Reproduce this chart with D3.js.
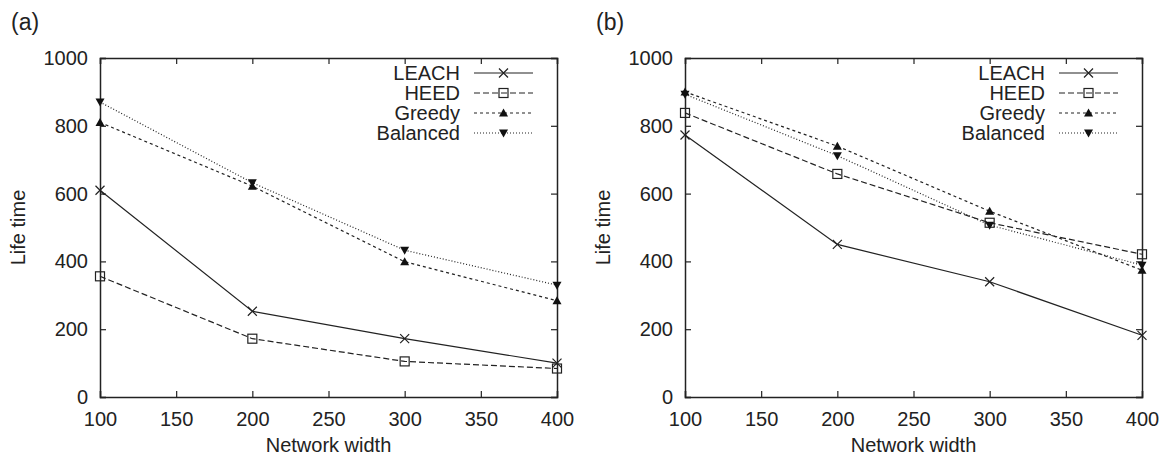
<!DOCTYPE html>
<html>
<head>
<meta charset="UTF-8">
<title>Life time vs network width</title>
<script src="https://d3js.org/d3.v7.min.js"></script>
<style>
  body { margin: 0; background: #fff; }
  svg { display: block; font-family: "Liberation Sans", Arial, sans-serif; }
</style>
</head>
<body>
<svg id="chart" width="1169" height="457"></svg>
<script>
// data
const widths = [100, 200, 300, 400];
const seriesNames = ["LEACH", "HEED", "Greedy", "Balanced"];

// panel (a)
const leachA = [610, 253, 172, 100];
const heedA = [356, 172, 105, 84];
const greedyA = [810, 622, 399, 284];
const balancedA = [870, 632, 433, 330];

// panel (b)
const leachB = [773, 450, 340, 182];
const heedB = [838, 658, 514, 421];
const greedyB = [900, 740, 548, 374];
const balancedB = [893, 712, 507, 389];

const xTicks = [100, 150, 200, 250, 300, 350, 400];
const yTicks = [0, 200, 400, 600, 800, 1000];

const styles = {
  LEACH: { dash: null, marker: "cross" },
  HEED: { dash: "6,3", marker: "square" },
  Greedy: { dash: "3,3", marker: "up" },
  Balanced: { dash: "1,2", marker: "down" }
};

const svg = d3.select("#chart");
const fs = 20;

function drawMarker(g, type, x, y) {
  const s = 4.5;
  if (type === "cross") {
    g.append("path").attr("d", `M${x - s},${y - s}L${x + s},${y + s}M${x - s},${y + s}L${x + s},${y - s}`)
      .attr("stroke", "#222").attr("stroke-width", 1.2).attr("fill", "none");
  } else if (type === "square") {
    g.append("rect").attr("x", x - s).attr("y", y - s).attr("width", 2 * s).attr("height", 2 * s)
      .attr("stroke", "#222").attr("stroke-width", 1.2).attr("fill", "none");
  } else if (type === "up") {
    g.append("path").attr("d", `M${x},${y - 4.5}L${x + 4.5},${y + 3.5}L${x - 4.5},${y + 3.5}Z`).attr("fill", "#111");
  } else {
    g.append("path").attr("d", `M${x},${y + 4.5}L${x + 4.5},${y - 3.5}L${x - 4.5},${y - 3.5}Z`).attr("fill", "#111");
  }
}

function panel(opts) {
  const { left, right, top, bottom, label, data, legendX } = opts;
  const x = d3.scaleLinear().domain([100, 400]).range([left, right]);
  const y = d3.scaleLinear().domain([0, 1000]).range([bottom, top]);
  const g = svg.append("g");

  // axes with inward ticks on all four sides
  const tl = 6;
  g.append("g").attr("transform", `translate(0,${bottom})`)
    .call(d3.axisBottom(x).tickValues(xTicks).tickSize(-tl).tickPadding(15).tickFormat(d3.format("d")));
  g.append("g").attr("transform", `translate(0,${top})`)
    .call(d3.axisTop(x).tickValues(xTicks).tickSize(-tl).tickFormat(""));
  g.append("g").attr("transform", `translate(${left},0)`)
    .call(d3.axisLeft(y).tickValues(yTicks).tickSize(-tl).tickPadding(12).tickFormat(d3.format("d")));
  g.append("g").attr("transform", `translate(${right},0)`)
    .call(d3.axisRight(y).tickValues(yTicks).tickSize(-tl).tickFormat(""));
  g.selectAll(".domain").attr("stroke", "#222").attr("stroke-width", 1.5);
  g.selectAll(".tick line").attr("stroke", "#222").attr("stroke-width", 1.2);
  g.selectAll(".tick text").attr("font-size", fs).attr("fill", "#222")
    .attr("font-family", "Liberation Sans, Arial, sans-serif");

  // lines and markers
  const line = d3.line().x((d, i) => x(widths[i])).y(d => y(d));
  seriesNames.forEach(name => {
    const st = styles[name];
    g.append("path").datum(data[name]).attr("d", line)
      .attr("fill", "none").attr("stroke", "#222").attr("stroke-width", 1.2)
      .attr("stroke-dasharray", st.dash);
    data[name].forEach((v, i) => drawMarker(g, st.marker, x(widths[i]), y(v)));
  });

  // legend
  seriesNames.forEach((name, i) => {
    const st = styles[name];
    const ly = 73 + i * 20;
    g.append("text").attr("x", legendX).attr("y", ly).attr("dy", "0.35em")
      .attr("text-anchor", "end").attr("font-size", fs).attr("fill", "#222").text(name);
    g.append("line").attr("x1", legendX + 14).attr("x2", legendX + 73).attr("y1", ly).attr("y2", ly)
      .attr("stroke", "#222").attr("stroke-width", 1.2).attr("stroke-dasharray", st.dash);
    drawMarker(g, st.marker, legendX + 43.5, ly);
  });

  // titles
  g.append("text").attr("x", left - 89).attr("y", 30).attr("font-size", 23).attr("fill", "#222").text(label);
  g.append("text").attr("transform", `translate(${left - 75},${(top + bottom) / 2}) rotate(-90)`)
    .attr("text-anchor", "middle").attr("font-size", fs).attr("fill", "#222").text("Life time");
  g.append("text").attr("x", (left + right) / 2).attr("y", 452)
    .attr("text-anchor", "middle").attr("font-size", fs).attr("fill", "#222").text("Network width");
}

panel({
  left: 100, right: 557, top: 58, bottom: 397, label: "(a)", legendX: 460,
  data: { LEACH: leachA, HEED: heedA, Greedy: greedyA, Balanced: balancedA }
});
panel({
  left: 685, right: 1142, top: 58, bottom: 397, label: "(b)", legendX: 1045,
  data: { LEACH: leachB, HEED: heedB, Greedy: greedyB, Balanced: balancedB }
});
</script>
</body>
</html>
